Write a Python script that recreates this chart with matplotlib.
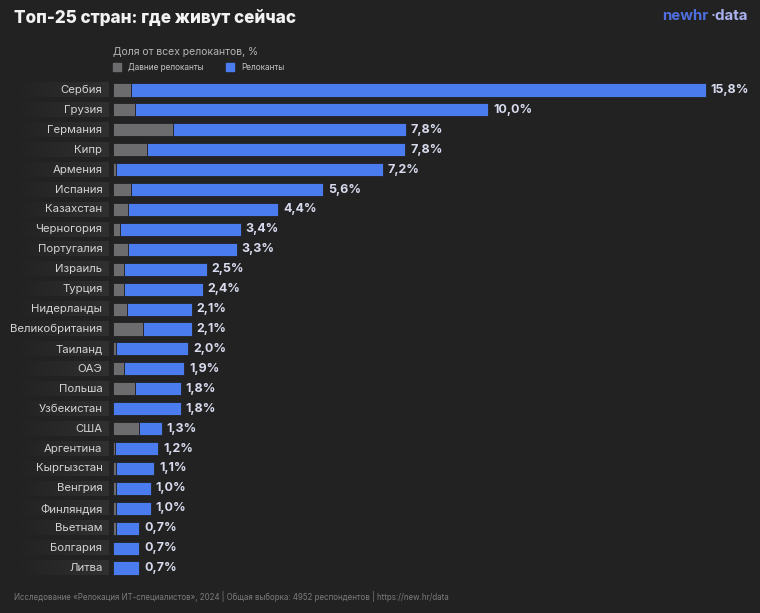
import numpy as np
import matplotlib.pyplot as plt
from matplotlib.patches import Rectangle
from matplotlib.colors import LinearSegmentedColormap

plt.rcParams['font.family'] = ['Inter', 'DejaVu Sans']

countries = ["Сербия", "Грузия", "Германия", "Кипр", "Армения", "Испания", "Казахстан",
             "Черногория", "Португалия", "Израиль", "Турция", "Нидерланды", "Великобритания",
             "Таиланд", "ОАЭ", "Польша", "Узбекистан", "США", "Аргентина", "Кыргызстан",
             "Венгрия", "Финляндия", "Вьетнам", "Болгария", "Литва"]
total = [15.8, 10.0, 7.8, 7.8, 7.2, 5.6, 4.4, 3.4, 3.3, 2.5, 2.4, 2.1, 2.1,
         2.0, 1.9, 1.8, 1.8, 1.3, 1.2, 1.1, 1.0, 1.0, 0.7, 0.7, 0.7]
old = [0.48, 0.59, 1.6, 0.9, 0.08, 0.48, 0.4, 0.19, 0.4, 0.29, 0.29, 0.37, 0.8,
       0.08, 0.29, 0.59, 0.0, 0.69, 0.05, 0.08, 0.08, 0.08, 0.08, 0.0, 0.0]
new = [t - o for t, o in zip(total, old)]

BG = "#222222"
GREY = "#6c6c6e"
BLUE = "#4a7bef"

W, H = 760, 613
fig = plt.figure(figsize=(W / 100, H / 100), dpi=100, facecolor=BG)

def fx(px):
    return px / W

def fy(py):
    return 1 - py / H

y = np.arange(len(countries))

# main bars
ax = fig.add_axes([fx(113), fy(578), fx(637), (578 - 80) / H])
ax.set_facecolor(BG)
ax.barh(y, old, height=0.66, color=GREY, edgecolor=BG, linewidth=0.6)
ax.barh(y, new, left=old, height=0.66, color=BLUE, edgecolor=BG, linewidth=0.6)
for yi, t in zip(y, total):
    ax.text(t + 0.13, yi, f"{t:.1f}%".replace(".", ","), va="center", ha="left",
            fontsize=9, fontweight="bold", color="#d8dbee")
ax.set_xlim(0, 637 / 37.5)
ax.set_ylim(len(countries) - 0.5, -0.5)
ax.axis("off")

# label column with gradient bands
lax = fig.add_axes([fx(15), fy(578), fx(94), (578 - 80) / H])
lax.set_facecolor(BG)
grad = np.linspace(0, 1, 256).reshape(1, -1)
cmap = LinearSegmentedColormap.from_list("band", [BG, "#303030"])
for yi in y:
    lax.imshow(grad, extent=(0, 1, yi + 0.36, yi - 0.36), cmap=cmap, aspect="auto")
for yi, c in zip(y, countries):
    lax.text(0.93, yi, c, ha="right", va="center", fontsize=8.2, color="#d4d4d4")
lax.set_xlim(0, 1)
lax.set_ylim(len(countries) - 0.5, -0.5)
lax.axis("off")

# title, subtitle, legend
fig.text(fx(14), fy(18), "Топ-25 стран: где живут сейчас", fontsize=12.3, fontweight="heavy",
         color="#f2f2f2", va="center", ha="left")
fig.text(fx(113), fy(52), "Доля от всех релокантов, %", fontsize=7.5, color="#b4b4b4",
         va="center", ha="left")
fig.patches.append(Rectangle((fx(113), fy(71)), fx(8), 8 / H, color=GREY,
                             transform=fig.transFigure, figure=fig))
fig.text(fx(128), fy(67), "Давние релоканты", fontsize=5.9, color="#c4c4c4", va="center")
fig.patches.append(Rectangle((fx(226), fy(71)), fx(8), 8 / H, color=BLUE,
                             transform=fig.transFigure, figure=fig))
fig.text(fx(241), fy(67), "Релоканты", fontsize=5.9, color="#c4c4c4", va="center")

# logo
fig.text(fx(662), fy(16), "newhr", fontsize=10.8, fontweight="bold", color="#4f6fe0",
         ha="left", va="center")
fig.text(fx(748), fy(16), "·data", fontsize=10.8, fontweight="bold", color="#aab3ee",
         ha="right", va="center")

# footer
fig.text(fx(14), fy(597), "Исследование «Релокация ИТ-специалистов», 2024 | Общая выборка: 4952 "
         "респондентов | https://new.hr/data", fontsize=5.7, color="#7c7c7c", va="center")

fig.savefig("out.png", dpi=100, facecolor=BG)
